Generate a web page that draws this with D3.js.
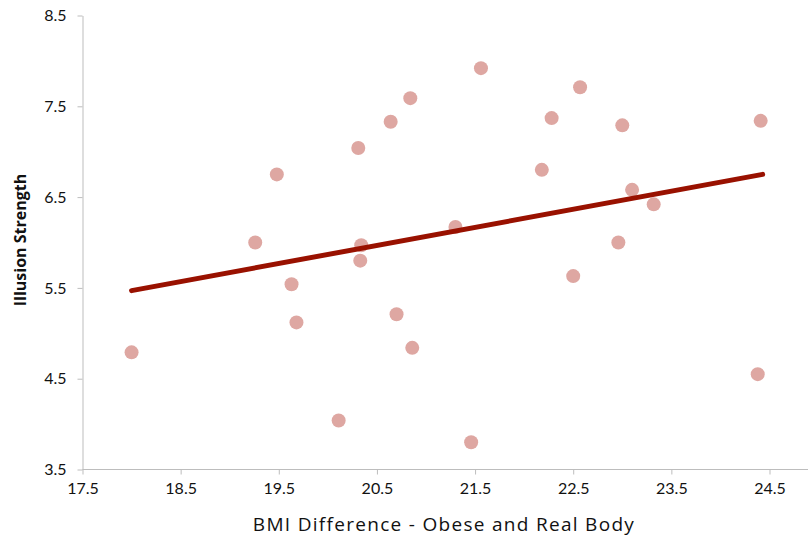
<!DOCTYPE html>
<html>
<head>
<meta charset="utf-8">
<script src="https://cdn.jsdelivr.net/npm/d3@7.9.0/dist/d3.min.js"></script>
<style>
  html, body { margin: 0; padding: 0; background: #fff; }
  svg { display: block; }
  .tick text { font-family: Lato, "Open Sans", sans-serif; font-size: 16px; fill: #111; }
</style>
</head>
<body>
<svg id="chart" width="808" height="539"></svg>
<script>
// BMI difference (x) vs illusion strength (y)
const bmiDiff = [18.00, 19.26, 19.48, 19.63, 19.68, 20.11, 20.31, 20.34, 20.33, 20.64,
  20.70, 20.84, 20.86, 21.30, 21.56, 21.46, 22.18, 22.28, 22.50, 22.57, 22.96, 23.00,
  23.10, 23.32, 24.41, 24.38];
const illusion = [4.79, 6.00, 6.75, 5.54, 5.12, 4.04, 7.04, 5.97, 5.80, 7.33,
  5.21, 7.59, 4.84, 6.17, 7.92, 3.80, 6.80, 7.37, 5.63, 7.71, 6.00, 7.29,
  6.58, 6.42, 7.34, 4.55];

// fitted trend line endpoints
const trendX = [18.0, 24.43];
const trendY = [5.47, 6.75];

const xTicks = [17.5, 18.5, 19.5, 20.5, 21.5, 22.5, 23.5, 24.5];
const yTicks = [3.5, 4.5, 5.5, 6.5, 7.5, 8.5];

const svg = d3.select('#chart');
const margin = { top: 15.5, left: 82.5, bottom: 469.5 };

const x = d3.scaleLinear().domain([17.5, 24.5]).range([margin.left, 769.5]);
const y = d3.scaleLinear().domain([3.5, 8.5]).range([margin.bottom, margin.top]);

// Axes
const xAxis = svg.append('g')
  .attr('transform', `translate(0,${margin.bottom})`)
  .call(d3.axisBottom(x).tickValues(xTicks).tickFormat(d3.format('.1f')).tickSize(5).tickSizeOuter(0).tickPadding(8));
xAxis.select('.domain').attr('d', `M${margin.left},0H808`);

const yAxis = svg.append('g')
  .attr('transform', `translate(${margin.left},0)`)
  .call(d3.axisLeft(y).tickValues(yTicks).tickFormat(d3.format('.1f')).tickSize(5).tickSizeOuter(0).tickPadding(11));

svg.selectAll('.domain, .tick line').attr('stroke', '#bdbdbd');

// Points
const points = bmiDiff.map((v, i) => ({ x: v, y: illusion[i] }));
svg.append('g')
  .selectAll('circle')
  .data(points)
  .join('circle')
  .attr('cx', d => x(d.x))
  .attr('cy', d => y(d.y))
  .attr('r', 7)
  .attr('fill', '#dea7a2');

// Trend line
const trend = trendX.map((v, i) => [v, trendY[i]]);
svg.append('path')
  .datum(trend)
  .attr('d', d3.line().x(d => x(d[0])).y(d => y(d[1])))
  .attr('stroke', '#991100')
  .attr('stroke-width', 5)
  .attr('stroke-linecap', 'round')
  .attr('fill', 'none');

// Axis titles
svg.append('text')
  .attr('x', 444)
  .attr('y', 531)
  .attr('text-anchor', 'middle')
  .style('font-family', '"Open Sans", sans-serif')
  .style('font-size', '19px')
  .style('font-weight', 500)
  .style('letter-spacing', '1.3px')
  .style('fill', '#111')
  .text('BMI Difference - Obese and Real Body');

svg.append('text')
  .attr('transform', 'translate(26,240) rotate(-90)')
  .attr('text-anchor', 'middle')
  .style('font-family', '"Open Sans", sans-serif')
  .style('font-size', '16px')
  .style('font-weight', 'bold')
  .style('fill', '#111')
  .text('Illusion Strength');
</script>
</body>
</html>
